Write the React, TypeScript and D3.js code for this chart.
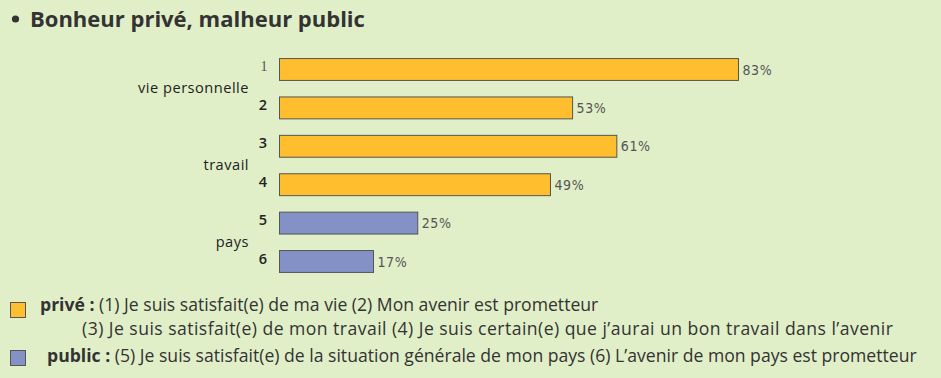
import React from "react";
import * as d3 from "d3";

const title = "Bonheur privé, malheur public";
const itemLabels = ["1", "2", "3", "4", "5", "6"];
const itemValues = [83, 53, 61, 49, 25, 17];
const itemGroups = ["privé", "privé", "privé", "privé", "public", "public"];
const groupLabels = ["vie personnelle", "travail", "pays"];
const groupItems = [["1", "2"], ["3", "4"], ["5", "6"]];
const legendNames = ["privé :", "public :"];
const legendLines = [
  ["(1) Je suis satisfait(e) de ma vie (2) Mon avenir est prometteur",
   "(3) Je suis satisfait(e) de mon travail (4) Je suis certain(e) que j’aurai un bon travail dans l’avenir"],
  ["(5) Je suis satisfait(e) de la situation générale de mon pays (6) L’avenir de mon pays est prometteur"],
];

const W = 941;
const H = 378;
const colors: Record<string, string> = { "privé": "#FFBE2E", "public": "#8391C7" };
const bg = "#E0EFC7";
const font = "'Open Sans', Lato, sans-serif";
const narrow = "'Liberation Sans Narrow', 'DejaVu Sans Condensed', 'Roboto Condensed', sans-serif";

export default function App() {
  const x = d3.scaleLinear().domain([0, 100]).range([279.5, 832.5]);
  const y = d3.scaleBand<string>().domain(itemLabels).range([49.8, 280.2]).paddingInner(0.43).paddingOuter(0.215);
  const bw = y.bandwidth();

  return (
    <svg width={W} height={H} style={{ position: "absolute", left: 0, top: 0 }}>
      <rect x={0} y={0} width={W} height={H} fill={bg} />
      <circle cx={15.5} cy={19} r={3.6} fill="#333" />
      <text x={30} y={26.5} fontFamily={font} fontWeight={700} fontSize={22} fill="#333">{title}</text>

      {itemLabels.map((k, i) => (
        <g key={k}>
          <rect x={x(0)} y={y(k)! + 0.5} width={x(itemValues[i]) - x(0)} height={bw}
            fill={colors[itemGroups[i]]} stroke="#555" strokeWidth={1} />
          <text x={x(itemValues[i]) + 4} y={y(k)! + bw / 2 + 5.5} fontFamily={narrow}
            fontSize={14} fill="#555" letterSpacing={0.6}>{itemValues[i]}%</text>
          {i === 0 ? (
            <text x={267.5} y={y(k)! + bw / 2 + 1.5} textAnchor="end" fontFamily="'Liberation Serif', 'DejaVu Serif', serif"
              fontSize={14} fill="#555">{k}</text>
          ) : (
            <text x={267} y={y(k)! + bw / 2 + 2.5} textAnchor="end" fontFamily={font} fontWeight={600}
              fontSize={14.5} fill="#222">{k}</text>
          )}
        </g>
      ))}

      {groupLabels.map((g, i) => {
        const a = y(groupItems[i][0])! + bw / 2;
        const b = y(groupItems[i][1])! + bw / 2;
        return (
          <text key={g} x={249} y={(a + b) / 2 + 5} textAnchor="end" fontFamily={font}
            fontSize={14.6} fill="#222" letterSpacing={0.5}>{g}</text>
        );
      })}

      <rect x={10.5} y={302.5} width={15} height={15} fill={colors["privé"]} stroke="#555" />
      <text x={40} y={311} fontFamily={font} fontSize={17.6} fill="#333">
        <tspan fontWeight={700}>{legendNames[0]}</tspan> {legendLines[0][0]}
      </text>
      <text x={82} y={335} fontFamily={font} fontSize={17.6} fill="#333" letterSpacing={0.45}>{legendLines[0][1]}</text>
      <rect x={10.5} y={350.5} width={15} height={15} fill={colors["public"]} stroke="#555" />
      <text x={47} y={362} fontFamily={font} fontSize={17.6} fill="#333">
        <tspan fontWeight={700}>{legendNames[1]}</tspan> {legendLines[1][0]}
      </text>
    </svg>
  );
}
